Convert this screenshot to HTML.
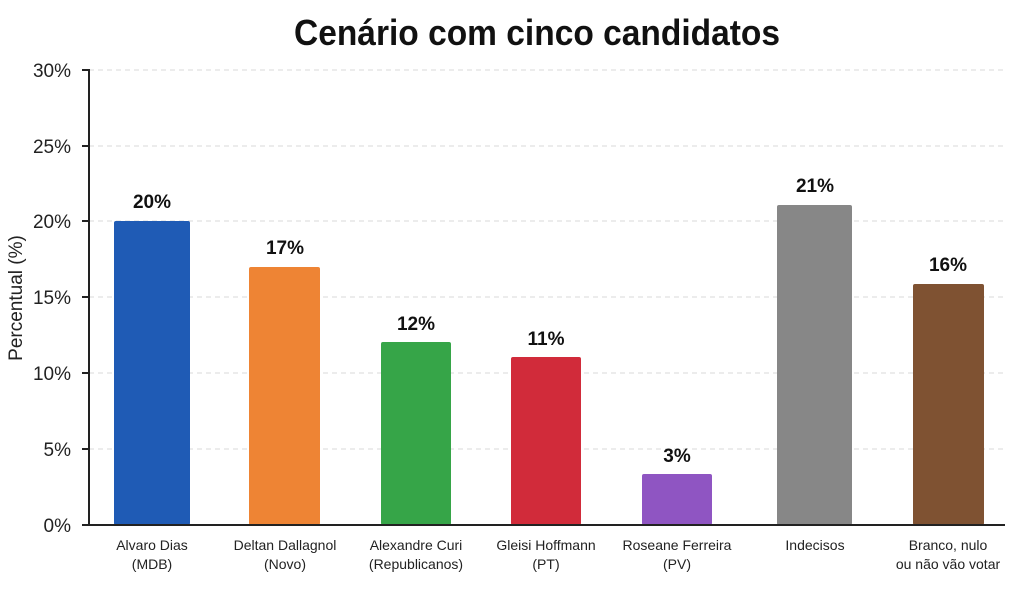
<!DOCTYPE html>
<html><head><meta charset="utf-8"><style>
html,body{margin:0;padding:0;background:#fff;}
text{font-family:"Liberation Sans",sans-serif;}
</style></head><body>
<svg width="1024" height="611" viewBox="0 0 1024 611" xmlns="http://www.w3.org/2000/svg">
<text x="537" y="45" text-anchor="middle" font-size="36" font-weight="bold" textLength="486" lengthAdjust="spacingAndGlyphs" fill="#111">Cenário com cinco candidatos</text>
<g stroke="#d8d8d8" stroke-dasharray="5,4" stroke-width="1">
<line x1="89" x2="1005" y1="70" y2="70"/>
<line x1="89" x2="1005" y1="146" y2="146"/>
<line x1="89" x2="1005" y1="221" y2="221"/>
<line x1="89" x2="1005" y1="297" y2="297"/>
<line x1="89" x2="1005" y1="373" y2="373"/>
<line x1="89" x2="1005" y1="449" y2="449"/>
</g>
<g>
<rect x="114" y="221" width="76" height="304" rx="2" fill="#1f5bb5"/>
<rect x="249" y="267" width="71" height="258" rx="2" fill="#ee8434"/>
<rect x="381" y="342" width="70" height="183" rx="2" fill="#36a548"/>
<rect x="511" y="357" width="70" height="168" rx="2" fill="#d12b3a"/>
<rect x="642" y="474" width="70" height="51" rx="2" fill="#8f55c2"/>
<rect x="777" y="205" width="75" height="320" rx="2" fill="#878787"/>
<rect x="913" y="284" width="71" height="241" rx="2" fill="#7f5232"/>
</g>
<g stroke="#222" stroke-width="2">
<line x1="89" y1="69" x2="89" y2="525"/>
<line x1="82" y1="525" x2="1005" y2="525"/>
<line x1="82" y1="70" x2="89" y2="70"/>
<line x1="82" y1="146" x2="89" y2="146"/>
<line x1="82" y1="221" x2="89" y2="221"/>
<line x1="82" y1="297" x2="89" y2="297"/>
<line x1="82" y1="373" x2="89" y2="373"/>
<line x1="82" y1="449" x2="89" y2="449"/>
</g>
<g font-size="19" fill="#222" text-anchor="end">
<text x="71" y="77">30%</text>
<text x="71" y="153">25%</text>
<text x="71" y="228">20%</text>
<text x="71" y="304">15%</text>
<text x="71" y="380">10%</text>
<text x="71" y="456">5%</text>
<text x="71" y="532">0%</text>
</g>
<text transform="translate(22,298) rotate(-90)" text-anchor="middle" font-size="19" fill="#222">Percentual (%)</text>
<g font-size="19" font-weight="bold" fill="#111" text-anchor="middle">
<text x="152" y="208">20%</text>
<text x="285" y="254">17%</text>
<text x="416" y="330">12%</text>
<text x="546" y="345">11%</text>
<text x="677" y="462">3%</text>
<text x="815" y="192">21%</text>
<text x="948" y="271">16%</text>
</g>
<g font-size="14" fill="#222" text-anchor="middle">
<text x="152" y="550">Alvaro Dias</text><text x="152" y="569">(MDB)</text>
<text x="285" y="550">Deltan Dallagnol</text><text x="285" y="569">(Novo)</text>
<text x="416" y="550">Alexandre Curi</text><text x="416" y="569">(Republicanos)</text>
<text x="546" y="550">Gleisi Hoffmann</text><text x="546" y="569">(PT)</text>
<text x="677" y="550">Roseane Ferreira</text><text x="677" y="569">(PV)</text>
<text x="815" y="550">Indecisos</text>
<text x="948" y="550">Branco, nulo</text><text x="948" y="569">ou não vão votar</text>
</g>
</svg>
</body></html>
